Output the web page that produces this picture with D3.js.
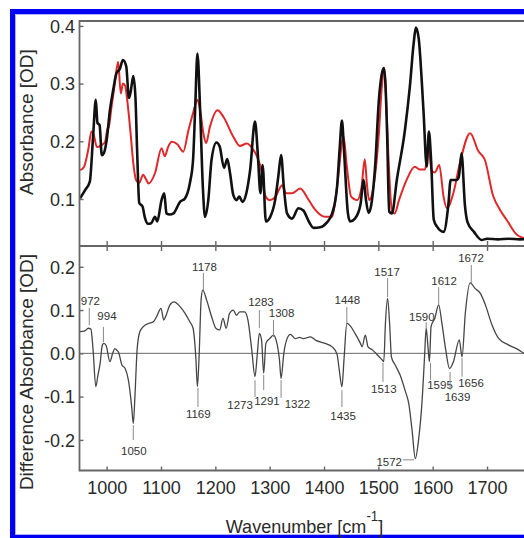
<!DOCTYPE html>
<html><head><meta charset="utf-8">
<script src="https://cdn.jsdelivr.net/npm/d3@7"></script>
<style>
html,body{margin:0;padding:0;background:#fff;overflow:hidden;}
svg{display:block;font-family:"Liberation Sans",Arial,Helvetica,sans-serif;}
</style></head>
<body>
<svg id="chart" width="524" height="538"></svg>
<script>
// ---------- DATA ----------
const xTicks = [1000,1100,1200,1300,1400,1500,1600,1700];
const absTicks = [0.1,0.2,0.3,0.4];
const diffTicks = [-0.2,-0.1,0.0,0.1,0.2];

// black absorbance spectrum [wavenumber, OD]
const blackSpectrum = [
[951,0.101],[960,0.115],[969,0.13],[975,0.208],[980,0.272],[983,0.232],[987,0.228],[991,0.176],[995,0.180],
[1000,0.202],[1006,0.254],[1012,0.289],[1018,0.318],[1024,0.325],[1030,0.341],[1036,0.330],[1041,0.275],
[1044,0.285],[1049,0.313],[1053,0.275],[1056,0.185],[1060,0.093],[1066,0.087],[1070,0.069],[1076,0.057],
[1082,0.058],[1089,0.069],[1093,0.061],[1101,0.098],[1106,0.110],[1110,0.075],[1116,0.073],[1123,0.075],
[1135,0.095],[1144,0.101],[1153,0.127],[1159,0.168],[1163,0.260],[1167,0.352],[1172,0.254],[1177,0.121],
[1181,0.069],[1187,0.098],[1193,0.168],[1202,0.198],[1208,0.191],[1216,0.154],[1222,0.169],[1227,0.145],
[1233,0.107],[1239,0.098],[1244,0.104],[1250,0.095],[1257,0.110],[1264,0.150],[1273,0.234],[1278,0.180],
[1283,0.110],[1287,0.159],[1293,0.061],[1301,0.069],[1310,0.098],[1316,0.140],[1321,0.176],[1326,0.121],
[1332,0.075],[1341,0.066],[1353,0.084],[1362,0.080],[1372,0.061],[1381,0.050],[1393,0.051],[1405,0.059],
[1415,0.075],[1424,0.121],[1429,0.190],[1433,0.236],[1437,0.180],[1444,0.075],[1448,0.061],[1457,0.066],
[1467,0.090],[1473,0.133],[1477,0.100],[1482,0.076],[1487,0.090],[1494,0.156],[1501,0.272],[1506,0.315],
[1510,0.327],[1513,0.300],[1516,0.217],[1520,0.078],[1525,0.075],[1534,0.133],[1549,0.220],[1558,0.295],
[1565,0.370],[1569,0.397],[1574,0.380],[1583,0.254],[1589,0.156],[1593,0.217],[1597,0.168],[1602,0.064],
[1608,0.052],[1620,0.043],[1629,0.092],[1633,0.133],[1644,0.133],[1648,0.138],[1653,0.179],[1659.5,0.087],
[1664,0.060],[1676,0.043],[1690,0.029],[1700,0.031],[1720,0.030],[1740,0.031],[1760,0.030],[1780,0.031]
];

// red absorbance spectrum [wavenumber, OD]
const redSpectrum = [
[951,0.150],[958,0.155],[966,0.185],[972,0.217],[976,0.212],[982,0.190],[990,0.193],[997,0.199],[1001,0.220],
[1004,0.225],[1009,0.260],[1015,0.300],[1021,0.338],[1026,0.283],[1030,0.300],[1034,0.296],[1038,0.270],
[1044,0.214],[1049,0.162],[1054,0.133],[1060,0.128],[1067,0.142],[1072,0.135],[1077,0.127],[1089,0.145],
[1101,0.188],[1107,0.174],[1113,0.190],[1120,0.199],[1130,0.195],[1141,0.182],[1150,0.217],[1159,0.249],
[1167,0.272],[1172,0.254],[1178,0.214],[1183,0.197],[1190,0.225],[1204,0.254],[1215,0.242],[1233,0.208],
[1245,0.192],[1258,0.196],[1270,0.185],[1276,0.175],[1286,0.144],[1292,0.105],[1300,0.098],[1310,0.103],
[1323,0.124],[1330,0.110],[1341,0.110],[1356,0.118],[1372,0.098],[1384,0.081],[1402,0.069],[1415,0.069],
[1424,0.121],[1436,0.208],[1442,0.156],[1450,0.104],[1461,0.098],[1469,0.120],[1475,0.169],[1479,0.125],
[1483,0.098],[1491,0.121],[1501,0.214],[1506,0.290],[1511,0.327],[1514,0.280],[1518,0.185],[1525,0.080],
[1530,0.075],[1538,0.098],[1552,0.133],[1567,0.156],[1576,0.151],[1586,0.151],[1592,0.194],[1598,0.149],
[1604,0.146],[1612,0.159],[1620,0.104],[1626,0.084],[1638,0.110],[1650,0.162],[1669,0.214],[1684,0.183],
[1696,0.168],[1711,0.106],[1724,0.081],[1736,0.064],[1755,0.038],[1768,0.032],[1780,0.030]
];

// difference spectrum [wavenumber, OD]
const diffSpectrum = [
[951,0.050],[960,0.052],[966,0.058],[971,0.056],[975,0.008],[980,-0.077],[984,-0.050],[988,-0.023],[992,0.019],
[995,0.023],[999,0.018],[1006,-0.019],[1011,0.000],[1015,0.011],[1019,0.007],[1022,0.002],[1028,-0.027],
[1034,-0.035],[1040,-0.062],[1046,-0.123],[1049,-0.162],[1052,-0.100],[1056,0.008],[1061,0.050],[1067,0.061],
[1077,0.069],[1086,0.073],[1092,0.085],[1100,0.104],[1105,0.077],[1110,0.090],[1116,0.111],[1124,0.119],
[1135,0.108],[1144,0.093],[1153,0.073],[1159,0.058],[1164,-0.008],[1167,-0.077],[1170,-0.010],[1174,0.127],
[1177,0.146],[1184,0.123],[1193,0.085],[1201,0.058],[1208,0.054],[1214,0.081],[1220,0.058],[1226,0.092],
[1233,0.100],[1239,0.088],[1245,0.096],[1254,0.096],[1260,0.077],[1267,0.008],[1273,-0.054],[1277,-0.005],
[1281,0.046],[1285,0.031],[1289,-0.046],[1293,0.023],[1300,0.034],[1307,0.042],[1312,0.030],[1318,-0.015],
[1321,-0.058],[1326,0.000],[1332,0.034],[1338,0.044],[1347,0.034],[1355,0.037],[1362,0.034],[1375,0.038],
[1385,0.030],[1402,0.023],[1415,0.015],[1424,-0.002],[1428,-0.038],[1433,-0.077],[1437,-0.010],[1442,0.069],
[1448,0.064],[1457,0.046],[1467,0.023],[1470,0.015],[1476,0.042],[1481,0.015],[1489,0.008],[1497,-0.002],
[1507,-0.015],[1510,-0.019],[1513,0.069],[1517,0.127],[1521,0.062],[1524,-0.008],[1531,-0.027],[1540,-0.050],
[1550,-0.089],[1556,-0.116],[1562,-0.177],[1568,-0.243],[1574,-0.200],[1581,-0.100],[1585,-0.008],[1588,0.058],
[1591,0.020],[1594,-0.019],[1597,0.062],[1604,0.081],[1611,0.112],[1617,0.069],[1624,0.008],[1631,-0.035],
[1638,-0.020],[1649,0.031],[1654,-0.008],[1660,0.092],[1669,0.163],[1678,0.150],[1688,0.138],[1697,0.112],
[1709,0.066],[1721,0.035],[1740,0.019],[1758,0.008],[1768,0.000],[1780,-0.003]
];

// peak labels: text, marker wavenumber, marker top / bottom (OD), label wavenumber, label baseline (OD), anchor
const peakLabels = [
["972",968,0.105,0.065,970,0.1115,"middle"],
["994",994,0.061,0.026,1000.5,0.077,"middle"],
["1050",1049,-0.166,-0.200,1050,-0.235,"middle"],
["1169",1168,-0.080,-0.124,1168.6,-0.149,"middle"],
["1178",1178,0.186,0.146,1180,0.191,"middle"],
["1273",1273,-0.062,-0.101,1269,-0.128,"end"],
["1283",1281,0.100,0.058,1284,0.110,"middle"],
["1291",1289,-0.050,-0.085,1295,-0.119,"middle"],
["1308",1307,0.077,0.038,1322,0.084,"middle"],
["1322",1321,-0.062,-0.103,1327.6,-0.126,"start"],
["1435",1433,-0.085,-0.124,1435,-0.154,"middle"],
["1448",1442,0.107,0.070,1443,0.114,"middle"],
["1513",1508.5,-0.022,-0.066,1510,-0.092,"middle"],
["1517",1517,0.174,0.130,1516,0.179,"middle"],
["1590",1588,0.072,0.058,1580,0.075,"middle"],
["1595",1596,-0.022,-0.062,1613.5,-0.082,"middle"],
["1612",1611,0.153,0.112,1621,0.158,"middle"],
["1639",1632,-0.043,-0.085,1645.7,-0.109,"middle"],
["1656",1654,-0.011,-0.054,1670.5,-0.077,"middle"],
["1672",1671,0.204,0.162,1670.5,0.211,"middle"]
];
// 1572 label with horizontal leader: text, label-end wavenumber, leader end wavenumber, leader OD, label baseline OD
const leaderLabel = ["1572",1543.5,1565.6,-0.246,-0.260];

// ---------- LAYOUT ----------
const svg = d3.select("#chart");
const W = 524, H = 538;
const L = 79.5, R = 530.5, T = 21, M = 246, B = 470.5;
const axisColor = "#666";

const x = d3.scaleLinear().domain([950,1780]).range([L,R]);
const yTop = d3.scaleLinear().domain([0.0185,0.4085]).range([M,T]);
const yBot = d3.scaleLinear().domain([-0.2707,0.248]).range([B,M]);

const defs = svg.append("defs");
defs.append("clipPath").attr("id","clipAll").append("rect").attr("x",0).attr("y",0).attr("width",W).attr("height",H);
defs.append("clipPath").attr("id","clipTop").append("rect").attr("x",L).attr("y",T).attr("width",W-L).attr("height",M-T);
defs.append("clipPath").attr("id","clipBot").append("rect").attr("x",L).attr("y",M).attr("width",W-L).attr("height",B-M);

const root = svg.append("g").attr("clip-path","url(#clipAll)");

// blue frame (left, top, bottom edges; right edge lies outside the picture)
const blue = root.append("g").attr("fill","none");
blue.append("path").attr("d",`M${W},11.5 H12.5 V537 H${W}`).attr("stroke","#0000f5").attr("stroke-width",5);
blue.append("path").attr("d",`M${W},14.5 H15.5 V534.5 H${W}`).attr("stroke","#b0b0ff").attr("stroke-width",1);

// zero line
root.append("line").attr("x1",L).attr("x2",W).attr("y1",yBot(0)).attr("y2",yBot(0))
  .attr("stroke","#555").attr("stroke-width",0.9);

// lines
const lineTop = d3.line().x(d=>x(d[0])).y(d=>yTop(d[1])).curve(d3.curveMonotoneX);
const lineBot = d3.line().x(d=>x(d[0])).y(d=>yBot(d[1])).curve(d3.curveMonotoneX);

const gTop = root.append("g").attr("clip-path","url(#clipTop)");
gTop.append("path").datum(redSpectrum).attr("d",lineTop).attr("fill","none")
  .attr("stroke","#e0282a").attr("stroke-width",2).attr("stroke-linejoin","round");
gTop.append("path").datum(blackSpectrum).attr("d",lineTop).attr("fill","none")
  .attr("stroke","#111").attr("stroke-width",2.6).attr("stroke-linejoin","round");

const gBot = root.append("g").attr("clip-path","url(#clipBot)");
gBot.append("path").datum(diffSpectrum).attr("d",lineBot).attr("fill","none")
  .attr("stroke","#454545").attr("stroke-width",1.3).attr("stroke-linejoin","round");

// peak annotation markers and labels
const ann = root.append("g").attr("font-size",11.5).attr("fill","#333");
peakLabels.forEach(p=>{
  ann.append("line").attr("x1",x(p[1])).attr("x2",x(p[1])).attr("y1",yBot(p[2])).attr("y2",yBot(p[3]))
    .attr("stroke","#888").attr("stroke-width",1);
  ann.append("text").attr("x",x(p[4])).attr("y",yBot(p[5])).attr("text-anchor",p[6]).text(p[0]);
});
ann.append("line").attr("x1",x(leaderLabel[1])+1).attr("x2",x(leaderLabel[2]))
  .attr("y1",yBot(leaderLabel[3])).attr("y2",yBot(leaderLabel[3])).attr("stroke","#888").attr("stroke-width",1);
ann.append("text").attr("x",x(leaderLabel[1])).attr("y",yBot(leaderLabel[4])).attr("text-anchor","end").text(leaderLabel[0]);

// frame lines as one open path (left edge + three horizontal rules running off the right edge)
root.append("path")
  .attr("d",`M${W},${T} H${L} V${B} H${W} M${L},${M} H${W}`)
  .attr("stroke",axisColor).attr("stroke-width",1.8).attr("fill","none");

// axes
const fmt = d => d.toFixed(1);
function styleAxis(g){
  g.select(".domain").remove();
  g.selectAll(".tick line").attr("stroke",axisColor).attr("stroke-width",1.4);
  g.selectAll(".tick text").attr("fill","#2a2a2a").attr("font-size",18)
    .attr("font-family",'"Liberation Sans",Arial,sans-serif');
}
root.append("g").attr("transform",`translate(${L},0)`)
  .call(d3.axisLeft(yTop).tickValues(absTicks).tickFormat(fmt).tickSizeInner(-4).tickSizeOuter(0).tickPadding(4.5))
  .call(styleAxis).selectAll(".tick text").attr("dy","0.35em");
root.append("g").attr("transform",`translate(${L},0)`)
  .call(d3.axisLeft(yBot).tickValues(diffTicks).tickFormat(fmt).tickSizeInner(-4).tickSizeOuter(0).tickPadding(4.5))
  .call(styleAxis).selectAll(".tick text").attr("dy","0.35em");
root.append("g").attr("transform",`translate(0,${B})`)
  .call(d3.axisBottom(x).tickValues(xTicks).tickFormat(d3.format("d")).tickSizeInner(-4).tickSizeOuter(0).tickPadding(11))
  .call(styleAxis);
// middle axis ticks (both sides)
root.append("g").attr("transform",`translate(0,${M})`)
  .call(d3.axisBottom(x).tickValues(xTicks).tickFormat("").tickSizeInner(5).tickSizeOuter(0))
  .call(styleAxis);
root.append("g").attr("transform",`translate(0,${M})`)
  .call(d3.axisTop(x).tickValues(xTicks).tickFormat("").tickSizeInner(5).tickSizeOuter(0))
  .call(styleAxis);

// axis titles
const titles = root.append("g").attr("fill","#2a2a2a").attr("font-size",19);
titles.append("text").attr("transform","translate(33,122) rotate(-90)").attr("text-anchor","middle").text("Absorbance [OD]");
titles.append("text").attr("transform","translate(33,372) rotate(-90)").attr("text-anchor","middle").text("Difference Absorbance [OD]");
const xt = titles.append("text").attr("transform","translate(304.5,533) scale(0.95,1)").attr("text-anchor","middle");
xt.append("tspan").text("Wavenumber [cm");
xt.append("tspan").attr("font-size",14).attr("dy",-12).text("-1");
xt.append("tspan").attr("dy",12).text("]");
</script>
</body></html>
